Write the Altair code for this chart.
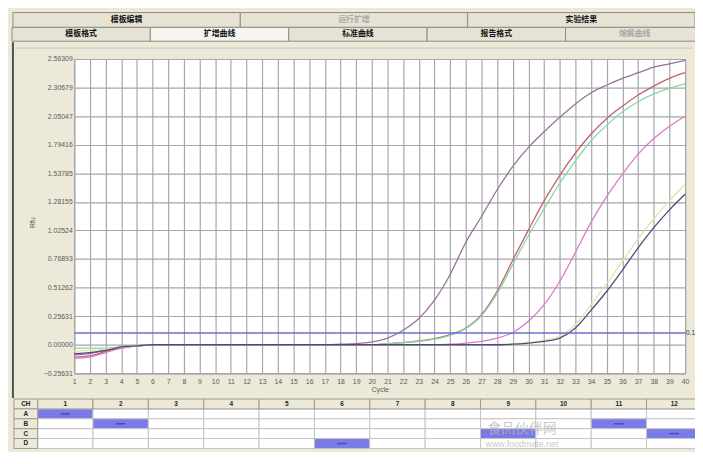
import altair as alt
import pandas as pd

# ---------------- data ----------------
cycles = list(range(1, 41))
series_names = ["S1", "S2", "S3", "S4", "S5", "S6"]
series_colors = ["#9c6f9a", "#c2606e", "#86d8a4", "#d87ac8", "#dfe6aa", "#4c4c7e"]

s1 = [-0.09, -0.08, -0.05, -0.025, -0.01, 0, 0, 0, 0, 0,
      0, 0, 0, 0, 0, 0, 0, 0.005, 0.01, 0.025,
      0.06, 0.13, 0.235, 0.40, 0.63, 0.92, 1.15, 1.39, 1.60, 1.77,
      1.91, 2.04, 2.16, 2.26, 2.33, 2.39, 2.44, 2.49, 2.52, 2.55]
s2 = [-0.11, -0.10, -0.06, -0.03, -0.01, 0, 0, 0, 0, 0,
      0, 0, 0, 0, 0, 0, 0, 0, 0, 0,
      0.01, 0.02, 0.035, 0.055, 0.09, 0.15, 0.27, 0.48, 0.76, 1.03,
      1.29, 1.52, 1.72, 1.89, 2.03, 2.14, 2.24, 2.32, 2.39, 2.44]
s3 = [-0.03, -0.03, -0.03, -0.02, -0.01, 0, 0, 0, 0, 0,
      0, 0, 0, 0, 0, 0, 0, 0, 0, 0,
      0.01, 0.02, 0.03, 0.05, 0.085, 0.145, 0.26, 0.46, 0.72, 0.98,
      1.22, 1.45, 1.65, 1.83, 1.97, 2.09, 2.18, 2.25, 2.30, 2.34]
s4 = [-0.12, -0.11, -0.07, -0.03, -0.01, 0, 0, 0, 0, 0,
      0, 0, 0, 0, 0, 0, 0, 0, 0, 0,
      0, 0, 0, 0, 0.005, 0.015, 0.03, 0.06, 0.11, 0.21,
      0.36, 0.57, 0.83, 1.10, 1.33, 1.53, 1.71, 1.85, 1.96, 2.05]
s5 = [-0.06, -0.05, -0.04, -0.02, -0.01, 0, 0, 0, 0, 0,
      0, 0, 0, 0, 0, 0, 0, 0, 0, 0,
      0, 0, 0, 0, 0, 0, 0, 0.005, 0.01, 0.02,
      0.04, 0.08, 0.18, 0.36, 0.55, 0.75, 0.95, 1.13, 1.29, 1.44]
s6 = [-0.08, -0.07, -0.05, -0.02, -0.01, 0, 0, 0, 0, 0,
      0, 0, 0, 0, 0, 0, 0, 0, 0, 0,
      0, 0, 0, 0, 0, 0, 0, 0, 0.005, 0.015,
      0.03, 0.06, 0.15, 0.31, 0.48, 0.67, 0.87, 1.05, 1.21, 1.35]
series_values = [s1, s2, s3, s4, s5, s6]

threshold = 0.106
threshold_label = "0.1"
y_ticks = [-0.25631, 0.0, 0.25631, 0.51262, 0.76893, 1.02524, 1.28155,
           1.53785, 1.79416, 2.05047, 2.30679, 2.56309]

tabs_top = ["模板编辑", "运行扩增", "实验结果"]
tabs_top_state = ["normal", "disabled", "normal"]
tabs_sub = ["模板格式", "扩增曲线", "标准曲线", "报告格式", "熔解曲线"]
tabs_sub_state = ["normal", "selected", "normal", "normal", "disabled"]

plate_cols = list(range(1, 13))
plate_rows = ["A", "B", "C", "D"]
header_label = "CH"
filled_wells = ["A1", "B2", "D6", "C9", "B11", "C12"]

# ---------------- layout ----------------
W, H = 618, 318
PAD = {"left": 67, "top": 49, "right": 10, "bottom": 77}
BEIGE = "#ece9d8"
GRID = "#a6a6ac"
LABEL = "#5a5a5a"
CJK = "Noto Sans CJK SC"
NUM = "Liberation Sans"

rows = []
for name, vals in zip(series_names, series_values):
    for c, v in zip(cycles, vals):
        rows.append({"cycle": c, "rfu": v, "sample": name})
curves_df = pd.DataFrame(rows)

x_axis = alt.Axis(values=cycles, format="d", grid=True, gridColor=GRID, gridWidth=1.2,
                  domain=False, ticks=False, labelFontSize=7, labelFont=NUM, labelColor=LABEL,
                  labelPadding=4, labelFlush=False, labelOverlap=False,
                  title="Cycle", titleFontSize=7, titleFont=NUM, titleFontWeight="normal",
                  titleColor=LABEL, titlePadding=1)
y_axis = alt.Axis(values=y_ticks, format=".5f", grid=True, gridColor=GRID, gridWidth=1.2,
                  domain=False, ticks=False, labelFontSize=7, labelFont=NUM, labelColor=LABEL,
                  labelPadding=2, labelFlush=False, labelOverlap=False,
                  title="Rfu", titleFontSize=7, titleFont=NUM, titleFontWeight="normal",
                  titleColor=LABEL, titleX=-42, titleY=165, titleAngle=270,
                  titleAlign="center", titleBaseline="middle")
x_scale = alt.Scale(domain=[1, 40], nice=False, zero=False)
y_scale = alt.Scale(domain=[y_ticks[0], y_ticks[-1]], nice=False, zero=False)

xs = alt.X("cycle:Q", scale=x_scale, axis=x_axis)
ys = alt.Y("rfu:Q", scale=y_scale, axis=y_axis)

lines = alt.Chart(curves_df).mark_line(strokeWidth=1.3, interpolate="monotone").encode(
    x=xs, y=ys,
    color=alt.Color("sample:N", scale=alt.Scale(domain=series_names, range=series_colors), legend=None),
)
thr_df = pd.DataFrame({"rfu": [threshold], "label": [threshold_label]})
thr = alt.Chart(thr_df).mark_rule(color="#6c6cd6", strokeWidth=1.5).encode(y=ys)
thr_text = alt.Chart(thr_df).mark_text(align="left", baseline="middle", fontSize=6.5, font=NUM,
                                       color="#333").encode(
    y=ys, x=alt.value(W + 1), text="label:N")
main = alt.layer(lines, thr, thr_text)

# ---------------- tabs ----------------
state_dom = ["normal", "selected", "disabled"]
fill_rng = ["#e6e3d4", "#f6f5ef", "#e6e3d4"]
text_rng = ["#111111", "#111111", "#a8a8a8"]


def tab_row(labels, states, x0, x1, y0, y1):
    df = pd.DataFrame({"tab": labels, "state": states})
    xenc = alt.X("tab:N", sort=labels,
                 scale=alt.Scale(domain=labels, range=[x0, x1], paddingInner=0, paddingOuter=0),
                 axis=None)
    rect = alt.Chart(df).mark_rect(stroke="#8e8c84", strokeWidth=1).encode(
        x=xenc, y=alt.value(y0), y2=alt.value(y1),
        fill=alt.Fill("state:N", scale=alt.Scale(domain=state_dom, range=fill_rng), legend=None))
    txt = alt.Chart(df).mark_text(font=CJK, fontSize=8, fontWeight="bold", baseline="middle").encode(
        x=xenc, y=alt.value((y0 + y1) / 2),
        text="tab:N",
        color=alt.Color("state:N", scale=alt.Scale(domain=state_dom, range=text_rng), legend=None))
    return alt.layer(rect, txt).resolve_scale(fill="independent", color="independent")


tabs1 = tab_row(tabs_top, tabs_top_state, -62, 628, -47, -32)
tabs2 = tab_row(tabs_sub, tabs_sub_state, -63, 637, -32, -18)

# ---------------- plate table ----------------
cells_df = pd.DataFrame([{"row": r, "col": c, "on": f"{r}{c}" in filled_wells}
                         for r in plate_rows for c in plate_cols])
header_df = pd.DataFrame({"col": plate_cols, "row": [header_label] * len(plate_cols)})
rowlab_df = pd.DataFrame({"row": [header_label] + plate_rows})
on_df = cells_df[cells_df["on"]]

row_scale = alt.Scale(domain=[header_label] + plate_rows, range=[344, 394], paddingInner=0, paddingOuter=0)
col_scale = alt.Scale(domain=plate_cols, range=[-37, 635], paddingInner=0, paddingOuter=0)
ty = alt.Y("row:N", scale=row_scale, axis=None)
tx = alt.X("col:O", scale=col_scale, axis=None)

cell_rect = alt.Chart(cells_df).mark_rect(stroke="#c4c4c4", strokeWidth=1).encode(
    x=tx, y=ty,
    fill=alt.condition("datum.on", alt.value("#7b7be8"), alt.value("white")))
cell_dash = alt.Chart(on_df).mark_point(shape="stroke", size=90, color="#4a4ab4", strokeWidth=1.5,
                                        opacity=1).encode(x=tx, y=ty)
head_rect = alt.Chart(header_df).mark_rect(fill=BEIGE, stroke="#9c9a90", strokeWidth=1).encode(x=tx, y=ty)
head_text = alt.Chart(header_df).mark_text(fontSize=6.5, font=NUM, fontWeight="bold", color="#222",
                                           baseline="middle").encode(x=tx, y=ty, text="col:O")
rowlab_rect = alt.Chart(rowlab_df).mark_rect(fill=BEIGE, stroke="#9c9a90", strokeWidth=1).encode(
    x=alt.value(-61), x2=alt.value(-37), y=ty)
rowlab_text = alt.Chart(rowlab_df).mark_text(fontSize=6.5, font=NUM, fontWeight="bold", color="#222",
                                             baseline="middle").encode(
    x=alt.value(-49), y=ty, text="row:N")
table = alt.layer(cell_rect, cell_dash, head_rect, head_text, rowlab_rect, rowlab_text)

# ---------------- decorations ----------------
one = pd.DataFrame({"k": [0]})
frame_left = alt.Chart(one).mark_rule(color="#505050", strokeWidth=2).encode(
    x=alt.value(-62), y=alt.value(-17), y2=alt.value(343))
frame_top = alt.Chart(one).mark_rule(color="#c8c6bc", strokeWidth=1).encode(
    x=alt.value(-60), x2=alt.value(625), y=alt.value(-11))
mark1 = alt.Chart(one).mark_text(text="食品伙伴网", font=CJK, fontSize=14, color="#b8b8b8",
                                 opacity=0.75, baseline="middle").encode(
    x=alt.value(453), y=alt.value(374))
mark2 = alt.Chart(one).mark_text(text="www.foodmate.net", font=NUM, fontSize=9, color="#b8b8b8",
                                 opacity=0.75, baseline="middle").encode(
    x=alt.value(453), y=alt.value(390))

chart = alt.layer(
    frame_left, frame_top, tabs1, tabs2, main, table, mark1, mark2
).resolve_scale(
    x="independent", y="independent", color="independent", fill="independent"
).properties(
    width=W, height=H,
    autosize=alt.AutoSizeParams(type="none"),
    padding=PAD,
    background=BEIGE,
).configure_view(
    stroke="#8a8a8a", strokeWidth=1, fill="white"
)

chart.save("out.html", embed_options={"renderer": "svg", "actions": False})
